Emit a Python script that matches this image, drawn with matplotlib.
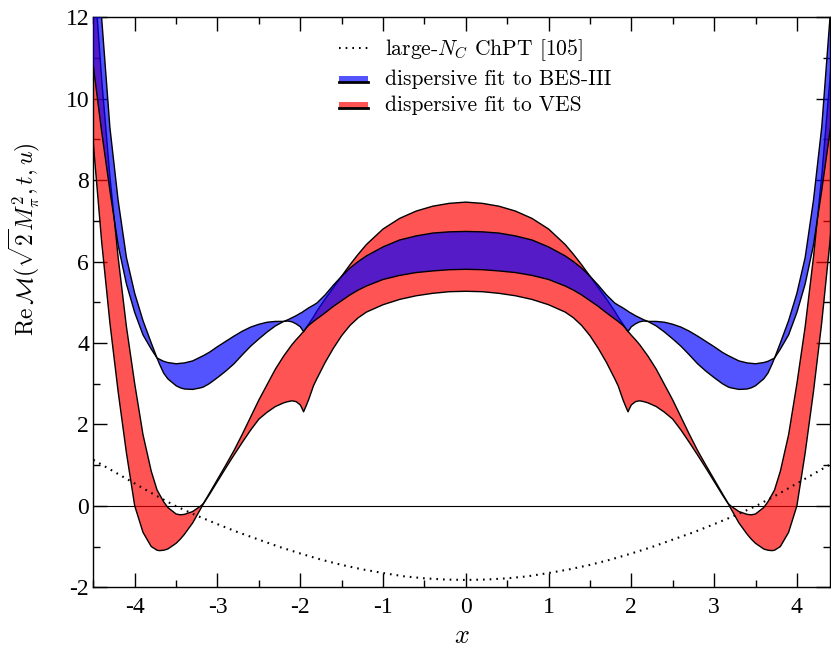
import numpy as np
import matplotlib
matplotlib.use('Agg')
import matplotlib.pyplot as plt
from matplotlib.legend_handler import HandlerBase
from matplotlib.patches import Rectangle, Patch
from matplotlib.lines import Line2D

plt.rcParams['font.family'] = 'Liberation Serif'
plt.rcParams['mathtext.fontset'] = 'cm'
plt.rcParams['axes.unicode_minus'] = False

# left half of the curves (x <= 0), the picture is symmetric in x
x_half = [-4.5, -4.4, -4.3, -4.2, -4.1, -4.0, -3.9, -3.8, -3.73, -3.7, -3.65, -3.6,
          -3.5, -3.45, -3.4, -3.3, -3.2, -3.17, -3.1, -3.0, -2.9, -2.8, -2.7, -2.6,
          -2.5, -2.4, -2.3, -2.2, -2.15, -2.1, -2.05, -2.0, -1.98, -1.96, -1.93, -1.9,
          -1.84, -1.8, -1.7, -1.6, -1.5, -1.4, -1.3, -1.2, -1.0, -0.8, -0.6, -0.4, -0.2, 0.0]
# dispersive fit to BES-III, upper / lower edge
bes_up = [15.0, 12.0, 9.3, 7.5, 6.1, 5.22, 4.55, 4.0, 3.63, 3.60, 3.55, 3.52,
          3.49, 3.50, 3.51, 3.56, 3.66, 3.69, 3.77, 3.91, 4.04, 4.17, 4.29, 4.39,
          4.46, 4.51, 4.53, 4.53, 4.57, 4.62, 4.67, 4.73, 4.75, 4.78, 4.82, 4.86,
          4.93, 4.98, 5.18, 5.42, 5.64, 5.84, 6.00, 6.14, 6.36, 6.53, 6.63, 6.70, 6.73, 6.74]
bes_lo = [10.8, 9.2, 7.75, 6.4, 5.45, 4.75, 4.2, 3.85, 3.63, 3.48, 3.26, 3.12,
          2.95, 2.90, 2.87, 2.86, 2.90, 2.92, 3.00, 3.15, 3.31, 3.49, 3.71, 3.92,
          4.10, 4.27, 4.42, 4.53, 4.54, 4.52, 4.47, 4.40, 4.34, 4.28, 4.36, 4.43,
          4.53, 4.59, 4.74, 4.90, 5.04, 5.18, 5.30, 5.40, 5.56, 5.66, 5.73, 5.77, 5.80, 5.81]
# dispersive fit to VES, upper / lower edge
ves_up = [13.3, 10.5, 8.1, 6.1, 4.4, 3.0, 1.75, 0.85, 0.39, 0.28, 0.10, -0.04,
          -0.20, -0.22, -0.21, -0.14, 0.00, 0.06, 0.30, 0.65, 1.00, 1.36, 1.76, 2.18,
          2.60, 2.98, 3.36, 3.68, 3.82, 3.96, 4.08, 4.19, 4.24, 4.28, 4.37, 4.46,
          4.64, 4.78, 5.08, 5.36, 5.64, 5.92, 6.18, 6.42, 6.80, 7.06, 7.24, 7.36, 7.43, 7.46]
ves_lo = [8.9, 6.5, 4.5, 2.8, 1.3, 0.0, -0.65, -1.0, -1.09, -1.10, -1.09, -1.06,
          -0.92, -0.82, -0.70, -0.42, -0.06, 0.05, 0.27, 0.60, 0.93, 1.25, 1.56, 1.86,
          2.13, 2.30, 2.44, 2.53, 2.56, 2.58, 2.56, 2.48, 2.40, 2.31, 2.45, 2.60,
          2.95, 3.12, 3.52, 3.87, 4.18, 4.43, 4.62, 4.76, 4.94, 5.07, 5.16, 5.22, 5.26, 5.27]
# large-N_C ChPT (x >= 0)
x_chpt = [0, 0.25, 0.5, 0.75, 1.0, 1.25, 1.5, 1.75, 2.0, 2.25, 2.5, 2.75, 3.0,
          3.25, 3.5, 3.75, 4.0, 4.25, 4.5]
y_chpt = [-1.82, -1.81, -1.78, -1.73, -1.65, -1.56, -1.45, -1.32, -1.17, -1.01, -0.83,
          -0.65, -0.45, -0.24, -0.01, 0.26, 0.55, 0.84, 1.13]


def mirror(xs, ys):
    xs = np.array(xs); ys = np.array(ys)
    return np.concatenate([xs, -xs[::-1][1:]]), np.concatenate([ys, ys[::-1][1:]])

x, b_up = mirror(x_half, bes_up)
x, b_lo = mirror(x_half, bes_lo)
x, v_up = mirror(x_half, ves_up)
x, v_lo = mirror(x_half, ves_lo)
xc = np.concatenate([-np.array(x_chpt)[::-1], np.array(x_chpt)[1:]])
yc = np.concatenate([np.array(y_chpt)[::-1], np.array(y_chpt)[1:]])

red = (1.0, 0.0, 0.0)
blue = (0.0, 0.0, 1.0)
alpha = 0.67


class BandHandler(HandlerBase):
    def create_artists(self, legend, orig_handle, xdescent, ydescent, width, height, fontsize, trans):
        y0 = -ydescent + 0.2 * height
        r = Rectangle((-xdescent, y0), width, 0.42 * height, facecolor=orig_handle.get_facecolor(),
                      edgecolor='none', transform=trans)
        l = Line2D([-xdescent, -xdescent + width], [y0, y0], color='k', lw=2.0, transform=trans)
        return [r, l]


fig = plt.figure(figsize=(8.31, 6.5), dpi=100)
ax = fig.add_axes([0.1123, 0.0965, 0.8865, 0.8769])

ax.axhline(0, color='k', lw=0.8, zorder=1)

ax.fill_between(x, v_lo, v_up, facecolor=red, alpha=alpha, edgecolor='none', zorder=2)
ax.plot(x, v_up, 'k-', lw=1.0, zorder=2)
ax.plot(x, v_lo, 'k-', lw=1.0, zorder=2)

ax.fill_between(x, b_lo, b_up, facecolor=blue, alpha=alpha, edgecolor='none', zorder=3)
ax.plot(x, b_up, 'k-', lw=1.0, zorder=3)
ax.plot(x, b_lo, 'k-', lw=1.0, zorder=3)

ax.plot(xc, yc, color='k', lw=1.5, linestyle=(0, (0.8, 2.4)), zorder=4)

ax.set_xlim(-4.5, 4.4)
ax.set_ylim(-2, 12)
ax.set_xticks(np.arange(-4, 5, 1))
ax.set_xticks(np.arange(-4.5, 4.5, 0.5), minor=True)
ax.set_yticks(np.arange(-2, 13, 2))
ax.set_yticks(np.arange(-2, 13, 1), minor=True)
ax.tick_params(which='both', direction='in', top=True, right=True, width=1.0)
ax.tick_params(which='major', length=10, labelsize=17)
ax.tick_params(which='minor', length=5)
ax.tick_params(axis='x', pad=7)
ax.tick_params(axis='y', pad=3)
for s in ax.spines.values():
    s.set_linewidth(1.0)

ax.set_xlabel(r'$x$', fontsize=19)
ax.xaxis.set_label_coords(0.5, -0.068)
ax.set_ylabel(r'$\mathrm{Re}\,\mathcal{M}(\sqrt{2}M_\pi^2, t, u)$', fontsize=17)
ax.yaxis.set_label_coords(-0.07, 0.61)

handles = [Line2D([], [], color='k', lw=1.5, linestyle=(0, (0.8, 2.4))),
           Patch(facecolor=blue, alpha=alpha),
           Patch(facecolor=red, alpha=alpha)]
labels = [r'large-$N_C$ ChPT [105]', 'dispersive fit to BES-III', 'dispersive fit to VES']
ax.legend(handles, labels, loc='upper left', bbox_to_anchor=(0.327, 0.972), frameon=False,
          prop={'family': 'cmr10', 'size': 15.5}, handlelength=1.35, handletextpad=0.8,
          labelspacing=0.3, borderaxespad=0, borderpad=0.2,
          handler_map={Patch: BandHandler()})

plt.savefig('out.png', dpi=100)
